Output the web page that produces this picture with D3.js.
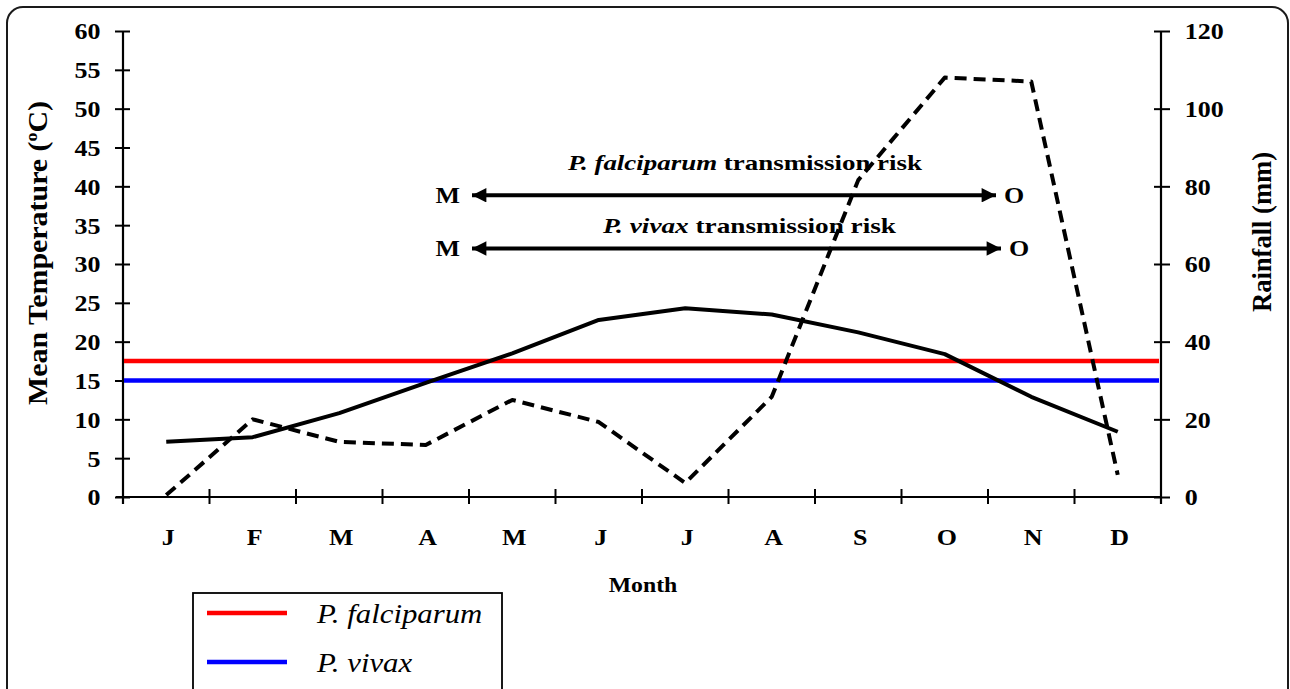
<!DOCTYPE html>
<html><head><meta charset="utf-8">
<script src="https://cdn.jsdelivr.net/npm/d3@7"></script>
<style>
body{margin:0;background:#fff}
svg{display:block}
text{font-family:"Liberation Serif","Times New Roman",serif;fill:#000}
</style>
</head><body><svg id="c" width="1290" height="689"></svg>
<script>
// ---- data ----
const months = ["J","F","M","A","M","J","J","A","S","O","N","D"];
const temperature = [7.1, 7.7, 10.8, 14.7, 18.5, 22.8, 24.3, 23.5, 21.2, 18.4, 12.9, 8.4];
const rainfall = [0.5, 20, 14.2, 13.4, 25, 19.3, 3.6, 25.8, 81.6, 108, 107, 5.7];
const tempTicks = [0,5,10,15,20,25,30,35,40,45,50,55,60];
const rainTicks = [0,20,40,60,80,100,120];
const thresholdNames = ["P. falciparum", "P. vivax"];
const thresholdValues = [17.5, 15];
const thresholdColors = ["#ff0000", "#0000ff"];
const riskLabels = ["transmission  risk", "transmission risk"];
const riskStartMonth = 4;   // May
const riskEndMonth = 9;     // October
const riskRainLevel = [77.7, 64];   // vertical placement on rainfall scale

// ---- layout ----
const svg = d3.select("#c");
const L = 123, R = 1161, T = 31, B = 497;
const SX = 1.13;  // horizontal stretch of the original artwork's lettering
svg.append("rect").attr("width",1290).attr("height",689).attr("fill","#fff");
svg.append("rect").attr("x",7).attr("y",7).attr("width",1281).attr("height",720)
  .attr("rx",16).attr("fill","none").attr("stroke","#1a1a1a").attr("stroke-width",2);

const x = d3.scaleBand().domain(d3.range(months.length)).range([L,R]);
const cx = i => x(i) + x.bandwidth()/2;
const yT = d3.scaleLinear().domain([0,60]).range([B,T]);
const yR = d3.scaleLinear().domain([0,120]).range([B,T]);

function sText(parent, px, py, sx, size) {
  return parent.append("g").attr("transform",`translate(${px},${py}) scale(${sx},1)`)
    .append("text").attr("font-size",size).attr("font-weight","bold");
}

// left axis
const gl = svg.append("g").attr("transform",`translate(${L},0)`)
  .call(d3.axisLeft(yT).tickValues(tempTicks).tickSizeOuter(0).tickPadding(14));
gl.select(".domain").attr("d",`M0,${T}V${B+7}`).attr("stroke","#000").attr("stroke-width",2.2);
gl.selectAll(".tick line").attr("x1",-8).attr("x2",7).attr("stroke","#000").attr("stroke-width",2);
gl.selectAll(".tick text").attr("font-size",23).attr("font-weight","bold").attr("font-family","Liberation Serif")
  .attr("fill","#000").attr("dy","0.34em").attr("transform",`scale(${SX},1)`);

// right axis
const gr = svg.append("g").attr("transform",`translate(${R},0)`)
  .call(d3.axisRight(yR).tickValues(rainTicks).tickSizeOuter(0).tickPadding(15));
gr.select(".domain").attr("d",`M0,${T}V${B+7}`).attr("stroke","#000").attr("stroke-width",2.2);
gr.selectAll(".tick line").attr("x1",-7).attr("x2",9).attr("stroke","#000").attr("stroke-width",2);
gr.selectAll(".tick text").attr("font-size",23).attr("font-weight","bold").attr("font-family","Liberation Serif")
  .attr("fill","#000").attr("dy","0.34em").attr("transform",`scale(${SX},1)`);

// x axis
const gx = svg.append("g");
gx.append("line").attr("x1",L-7).attr("x2",R).attr("y1",B).attr("y2",B).attr("stroke","#000").attr("stroke-width",2.2);
gx.selectAll("line.tk").data(d3.range(months.length+1)).join("line").attr("class","tk")
  .attr("x1",i=>L+i*x.step()).attr("x2",i=>L+i*x.step())
  .attr("y1",B-8).attr("y2",B+7).attr("stroke","#000").attr("stroke-width",2);
months.forEach((m,i)=>{
  sText(gx, cx(i)+2, B+48, SX, 23).attr("text-anchor","middle").text(m);
});

// axis titles
sText(svg, 643, 592, 1.08, 22).attr("text-anchor","middle").text("Month");
const lt = svg.append("text").attr("transform","translate(47,253) rotate(-90)")
  .attr("text-anchor","middle").attr("font-size",27).attr("font-weight","bold")
  .attr("textLength",304).attr("lengthAdjust","spacingAndGlyphs");
lt.append("tspan").text("Mean Temperature (");
lt.append("tspan").attr("font-size",16).attr("dy",-10).text("o");
lt.append("tspan").attr("dy",10).text("C)");
svg.append("text").attr("transform","translate(1271,232) rotate(-90)")
  .attr("text-anchor","middle").attr("font-size",27).attr("font-weight","bold")
  .attr("textLength",160).attr("lengthAdjust","spacingAndGlyphs").text("Rainfall (mm)");

// threshold lines
thresholdValues.forEach((v,k)=>{
  svg.append("line").attr("x1",L+1).attr("x2",R-2).attr("y1",yT(v)).attr("y2",yT(v))
    .attr("stroke",thresholdColors[k]).attr("stroke-width",4.5);
});

// risk arrows
const defs = svg.append("defs");
defs.append("marker").attr("id","ah").attr("viewBox","0 0 10 10").attr("refX",10).attr("refY",5)
  .attr("markerWidth",4.2).attr("markerHeight",3.6).attr("markerUnits","strokeWidth")
  .attr("orient","auto-start-reverse")
  .append("path").attr("d","M0,0L10,5L0,10Z").attr("fill","#000");
const riskTextLen = [354, 293];
riskLabels.forEach((lab,k)=>{
  const y = yR(riskRainLevel[k]);
  const x1 = x(riskStartMonth) + 3, x2 = x(riskEndMonth) + x.bandwidth() + 8 + k*5;
  svg.append("line").attr("x1",x1).attr("x2",x2).attr("y1",y).attr("y2",y)
    .attr("stroke","#000").attr("stroke-width",4)
    .attr("marker-start","url(#ah)").attr("marker-end","url(#ah)");
  sText(svg, x1-12, y+8, SX, 23).attr("text-anchor","end").text(months[riskStartMonth]);
  sText(svg, x2+8, y+8, SX, 23).text(months[riskEndMonth]);
  const t = svg.append("text").attr("x",(x1+x2)/2 + 11 + k*2).attr("y",y-25 + k*10)
    .attr("text-anchor","middle").attr("font-size",21).attr("font-weight","bold")
    .attr("textLength",riskTextLen[k]).attr("lengthAdjust","spacingAndGlyphs");
  t.append("tspan").attr("font-style","italic").text(thresholdNames[k]);
  t.append("tspan").text(" " + lab);
});

// data lines
svg.append("path").datum(temperature)
  .attr("d", d3.line().x((d,i)=>cx(i)).y(d=>yT(d)))
  .attr("fill","none").attr("stroke","#000").attr("stroke-width",4).attr("stroke-linejoin","round");
svg.append("path").datum(rainfall)
  .attr("d", d3.line().x((d,i)=>cx(i)).y(d=>yR(d)))
  .attr("fill","none").attr("stroke","#000").attr("stroke-width",4)
  .attr("stroke-dasharray","12,7").attr("stroke-linejoin","round");

// legend
const lg = svg.append("g");
lg.append("rect").attr("x",193).attr("y",593).attr("width",309).attr("height",110)
  .attr("fill","#fff").attr("stroke","#000").attr("stroke-width",1.8);
thresholdNames.forEach((n,k)=>{
  const y = 613 + k*49;
  lg.append("line").attr("x1",207).attr("x2",287).attr("y1",y).attr("y2",y)
    .attr("stroke",thresholdColors[k]).attr("stroke-width",4.5);
  lg.append("g").attr("transform",`translate(317,${y+10}) scale(1.1,1)`)
    .append("text").attr("font-size",28).attr("font-style","italic").text(n);
});
</script>
</body></html>
